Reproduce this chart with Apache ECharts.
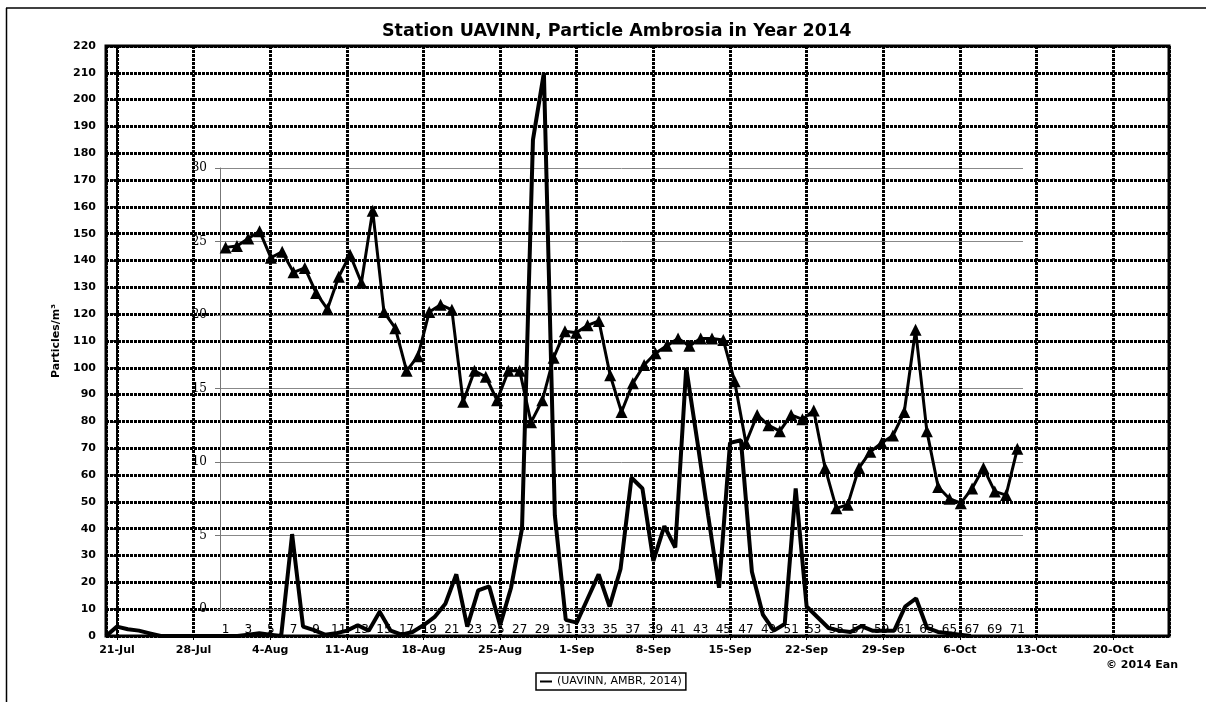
<!DOCTYPE html>
<html><head><meta charset="utf-8">
<script src="https://cdn.jsdelivr.net/npm/echarts@6/dist/echarts.min.js"></script>
<style>html,body{margin:0;padding:0;background:#fff}#c{width:1206px;height:702px}</style>
</head><body><div id="c"></div>
<script>
// Daily values, starting 20-Jul-2014 (index 1 = 21-Jul)
const dailyValues = [
  0, 3.5, 2.5, 2, 1, 0, 0, 0, 0, 0, 0, 0,
  0, 0.5, 1, 0.5, 0, 38, 3.5, 2.2, 0.5, 1, 2, 4, 2, 9, 2, 0.5, 1.5, 4, 7, 12, 23, 3.5, 17, 18.5, 4, 18, 40, 185, 210, 45, 6,
  5, 14, 23, 11, 25, 59, 55, 28, 41, 33, 100, 73, 45, 18, 72, 73, 24, 8, 2, 4.5, 55, 11, 7, 3, 2, 1.5, 3.7, 2, 2, 2,
  11, 14, 3, 1.5, 1, 0.5, 0
];
const weekLabels = ['21-Jul','28-Jul','4-Aug','11-Aug','18-Aug','25-Aug','1-Sep','8-Sep','15-Sep','22-Sep','29-Sep','6-Oct','13-Oct','20-Oct'];
const sampleNumbers = ['1','2','3','4','5','6','7','8','9','10','11','12','13','14','15','16','17','18','19','20',
  '21','22','23','24','25','26','27','28','29','30','31','32','33','34','35','36','37','38','39','40',
  '41','42','43','44','45','46','47','48','49','50','51','52','53','54','55','56','57','58','59','60',
  '61','62','63','64','65','66','67','68','69','70','71'];
const sampleValues = [
  24.6, 24.7, 25.2, 25.7, 23.9, 24.3, 22.9, 23.2, 21.5, 20.4,
  22.6, 24.1, 22.2, 27.1, 20.2, 19.1, 16.2, 17.2, 20.2, 20.7,
  20.35, 14.1, 16.2, 15.8, 14.2, 16.2, 16.2, 12.7, 14.2, 17.1,
  18.9, 18.8, 19.3, 19.6, 15.9, 13.4, 15.35, 16.6, 17.4, 17.9,
  18.4, 17.9, 18.4, 18.4, 18.3, 15.5, 11.3, 13.2, 12.5, 12.1,
  13.2, 12.9, 13.5, 9.6, 6.85, 7.1, 9.6, 10.7, 11.3, 11.8,
  13.4, 19.0, 12.1, 8.3, 7.5, 7.2, 8.2, 9.6, 8.0, 7.75, 10.9
];
const seriesName = '(UAVINN, AMBR, 2014)';

// x in weeks since 21-Jul
const mainData = dailyValues.map((v, i) => [(i - 1) / 7, v]);

const chart = echarts.init(document.getElementById('c'), null, {renderer: 'canvas'});
const dotted = {color: '#000', width: 3, type: [3, 1]};
const option = {
  animation: false,
  backgroundColor: '#fff',
  title: {
    text: 'Station UAVINN, Particle Ambrosia in Year 2014',
    left: 377, top: 17,
    textStyle: {fontFamily: 'DejaVu Sans', fontWeight: 'bold', fontSize: 17.5, color: '#000'}
  },
  legend: {
    data: [seriesName], left: 536, top: 673,
    icon: 'rect', itemWidth: 12, itemHeight: 2,
    padding: [3, 4, 3, 4], borderColor: '#000', borderWidth: 1.5,
    textStyle: {fontFamily: 'DejaVu Sans', fontSize: 11, color: '#000'}
  },
  grid: [
    {left: 106, top: 46, right: 37, bottom: 66, show: true, borderColor: '#000', borderWidth: 3, backgroundColor: 'transparent'},
    {left: 220, top: 168, right: 183, bottom: 93}
  ],
  xAxis: [
    {
      type: 'value', gridIndex: 0, min: -1 / 7, max: 96.1 / 7, splitNumber: 14, offset: 4,
      axisLine: {show: true, lineStyle: {color: '#000', width: 1}},
      axisTick: {show: true, length: 4, lineStyle: {color: '#000'}},
      axisLabel: {
        margin: 5, fontFamily: 'DejaVu Sans', fontWeight: 'bold', fontSize: 11, color: '#000',
        showMinLabel: false, showMaxLabel: false,
        formatter: v => (Math.abs(v - Math.round(v)) < 1e-6 ? (weekLabels[Math.round(v)] || '') : '')
      },
      splitLine: {show: true, lineStyle: dotted}
    },
    {
      type: 'category', gridIndex: 1, data: sampleNumbers, boundaryGap: true,
      axisLine: {show: false}, axisTick: {show: false},
      axisLabel: {interval: 1, margin: 15, fontFamily: 'DejaVu Sans', fontSize: 12, color: '#000'}
    }
  ],
  yAxis: [
    {
      type: 'value', gridIndex: 0, min: 0, max: 220, interval: 10,
      name: 'Particles/m³', nameLocation: 'middle', nameGap: 44,
      nameTextStyle: {fontFamily: 'DejaVu Sans', fontWeight: 'bold', fontSize: 11, color: '#000'},
      axisLine: {show: true, lineStyle: {color: '#000', width: 2}},
      axisTick: {show: true, length: 4, lineStyle: {color: '#000', width: 1.5}},
      axisLabel: {margin: 10, fontFamily: 'DejaVu Sans', fontWeight: 'bold', fontSize: 11, color: '#000'},
      splitLine: {show: true, lineStyle: dotted}
    },
    {
      type: 'value', gridIndex: 1, min: 0, max: 30, interval: 5,
      axisLine: {show: true, lineStyle: {color: '#777', width: 1}},
      axisTick: {show: true, length: 5, lineStyle: {color: '#777'}},
      axisLabel: {margin: 13, fontFamily: 'DejaVu Serif', fontSize: 12, color: '#000'},
      splitLine: {show: true, lineStyle: {color: '#888', width: 1}}
    }
  ],
  series: [
    {
      name: seriesName, type: 'line', xAxisIndex: 0, yAxisIndex: 0, data: mainData,
      symbol: 'none', lineStyle: {color: '#000', width: 4}, itemStyle: {color: '#000'}, z: 3
    },
    {
      name: 'samples', type: 'line', xAxisIndex: 1, yAxisIndex: 1, data: sampleValues,
      symbol: 'triangle', symbolSize: 12, showAllSymbol: true,
      lineStyle: {color: '#000', width: 3}, itemStyle: {color: '#000'}, z: 4
    }
  ],
  graphic: [
    {type: 'line', shape: {x1: 6, y1: 8, x2: 1206, y2: 8}, style: {stroke: '#000', lineWidth: 1.5}},
    {type: 'line', shape: {x1: 6.5, y1: 8, x2: 6.5, y2: 702}, style: {stroke: '#000', lineWidth: 1.5}},
    {type: 'text', right: 28, top: 660, style: {text: '© 2014 Ean', font: 'bold 11px "DejaVu Sans"', fill: '#000'}}
  ]
};
chart.setOption(option);
</script>
</body></html>
